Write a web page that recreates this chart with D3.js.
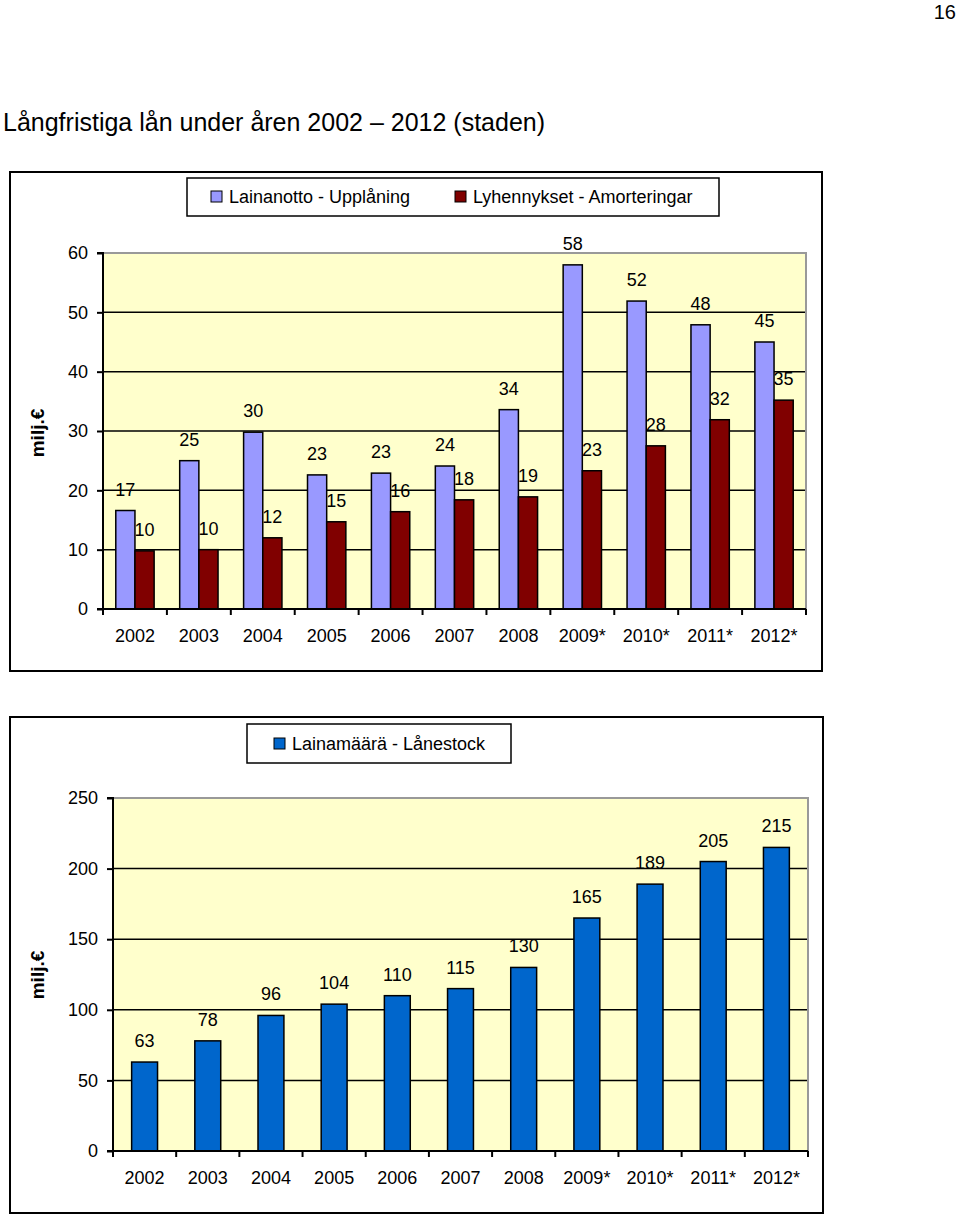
<!DOCTYPE html>
<html><head><meta charset="utf-8">
<script src="https://cdn.jsdelivr.net/npm/d3@7"></script>
<style>
body{margin:0;background:#fff;}
svg{display:block;font-family:"Liberation Sans",Arial,sans-serif;}
</style></head>
<body>
<svg id="c" width="960" height="1217"></svg>
<script>
const years = ["2002","2003","2004","2005","2006","2007","2008","2009*","2010*","2011*","2012*"];
const upplaning = [16.6, 25, 29.8, 22.6, 22.9, 24.1, 33.6, 58, 51.9, 47.9, 45];
const upplaningLabels = ["17","25","30","23","23","24","34","58","52","48","45"];
const amortering = [9.8, 10, 12, 14.7, 16.4, 18.4, 18.9, 23.3, 27.5, 31.9, 35.2];
const amorteringLabels = ["10","10","12","15","16","18","19","23","28","32","35"];
const lanestock = [63, 78, 96, 104, 110, 115, 130, 165, 189, 205, 215];
const lanestockLabels = ["63","78","96","104","110","115","130","165","189","205","215"];
const ticksTop = [0,10,20,30,40,50,60];
const ticksBottom = [0,50,100,150,200,250];

const svg = d3.select("#c");
const FS = 18;

svg.append("text").attr("x",956).attr("y",19).attr("text-anchor","end")
  .attr("font-size",20).text("16");
svg.append("text").attr("x",3).attr("y",131).attr("font-size",25)
  .text("Långfristiga lån under åren 2002 – 2012 (staden)");

function drawChart(o){
  const g = svg.append("g");
  g.append("rect").attr("x",o.frame[0]).attr("y",o.frame[1]).attr("width",o.frame[2]).attr("height",o.frame[3])
    .attr("fill","#fff").attr("stroke","#000").attr("stroke-width",2);
  g.append("rect").attr("x",o.legend[0]).attr("y",o.legend[1]).attr("width",o.legend[2]).attr("height",o.legend[3])
    .attr("fill","#fff").attr("stroke","#000").attr("stroke-width",1.5);
  o.legendItems.forEach(it=>{
    g.append("rect").attr("x",it.x).attr("y",it.y).attr("width",11).attr("height",11)
      .attr("fill",it.color).attr("stroke","#000").attr("stroke-width",1);
    g.append("text").attr("x",it.x+18).attr("y",it.y+12).attr("font-size",FS).text(it.text);
  });
  const [L,R,T,B] = o.plot;
  const x = d3.scaleBand().domain(years).range([L,R]).padding(0);
  const y = d3.scaleLinear().domain([0,o.max]).range([B,T]);
  g.append("rect").attr("x",L).attr("y",T).attr("width",R-L).attr("height",B-T).attr("fill","#FFFFCC");
  g.selectAll(".grid").data(o.ticks.filter(t=>t>0 && t<o.max)).enter().append("line")
    .attr("x1",L).attr("x2",R).attr("y1",d=>y(d)).attr("y2",d=>y(d))
    .attr("stroke","#000").attr("stroke-width",1.5);
  g.append("path").attr("d",`M${L},${T}H${R}V${B}`).attr("fill","none").attr("stroke","#999").attr("stroke-width",2);
  o.series.forEach(s=>{
    const bw = x.bandwidth()*s.w;
    g.selectAll(null).data(s.values).enter().append("text")
      .attr("x",(d,i)=>x(years[i])+x.bandwidth()/2+s.off*bw)
      .attr("y",d=>y(d)-15).attr("text-anchor","middle").attr("font-size",FS)
      .text((d,i)=>s.labels[i]);
  });
  o.series.forEach(s=>{
    const bw = x.bandwidth()*s.w;
    g.selectAll(null).data(s.values).enter().append("rect")
      .attr("x",(d,i)=>x(years[i])+x.bandwidth()/2+s.off*bw-bw/2)
      .attr("y",d=>y(d)).attr("width",bw).attr("height",d=>B-y(d))
      .attr("fill",s.color).attr("stroke","#000").attr("stroke-width",1.5);
  });
  const ya = g.append("g").attr("transform",`translate(${L},0)`)
    .call(d3.axisLeft(y).tickValues(o.ticks).tickSize(6).tickPadding(9).tickFormat(d3.format("d")));
  ya.select(".domain").attr("stroke","#000").attr("stroke-width",2).attr("d",`M-6,${B}H0V${T}H-6`);
  ya.selectAll(".tick line").attr("stroke-width",2);
  ya.selectAll("text").attr("font-size",FS).attr("font-family","Liberation Sans, Arial, sans-serif").attr("fill","#000");
  const xa = g.append("g").attr("transform",`translate(0,${B})`)
    .call(d3.axisBottom(x).tickSize(0).tickPadding(20));
  xa.select(".domain").remove();
  xa.selectAll("text").attr("font-size",FS).attr("font-family","Liberation Sans, Arial, sans-serif").attr("fill","#000");
  g.append("line").attr("x1",L).attr("x2",R).attr("y1",B).attr("y2",B).attr("stroke","#000").attr("stroke-width",2);
  const edges = years.map(d=>x(d)).concat([x.range()[1]]);
  g.selectAll(null).data(edges).enter().append("line")
    .attr("x1",d=>d).attr("x2",d=>d).attr("y1",B).attr("y2",B+6).attr("stroke","#000").attr("stroke-width",2);
  g.append("text").attr("transform",`translate(${o.ylab[0]},${o.ylab[1]}) rotate(-90)`)
    .attr("text-anchor","middle").attr("font-size",19).attr("font-weight","bold").text("milj.€");
}

drawChart({
  frame:[10,172,812,499],
  legend:[187,178,532,38],
  legendItems:[{x:211,y:191,color:"#9999FF",text:"Lainanotto - Upplåning"},
               {x:455,y:191,color:"#800000",text:"Lyhennykset - Amorteringar"}],
  plot:[103,806,253,609],
  max:60, ticks:ticksTop,
  series:[{values:upplaning,labels:upplaningLabels,color:"#9999FF",w:0.3,off:-0.5},
          {values:amortering,labels:amorteringLabels,color:"#800000",w:0.3,off:0.5}],
  ylab:[44,433]
});

drawChart({
  frame:[10,717,813,496],
  legend:[247,724,264,39],
  legendItems:[{x:274,y:738,color:"#0066CC",text:"Lainamäärä - Lånestock"}],
  plot:[113,808,798,1151],
  max:250, ticks:ticksBottom,
  series:[{values:lanestock,labels:lanestockLabels,color:"#0066CC",w:0.41,off:0}],
  ylab:[44,975]
});
</script>
</body></html>
